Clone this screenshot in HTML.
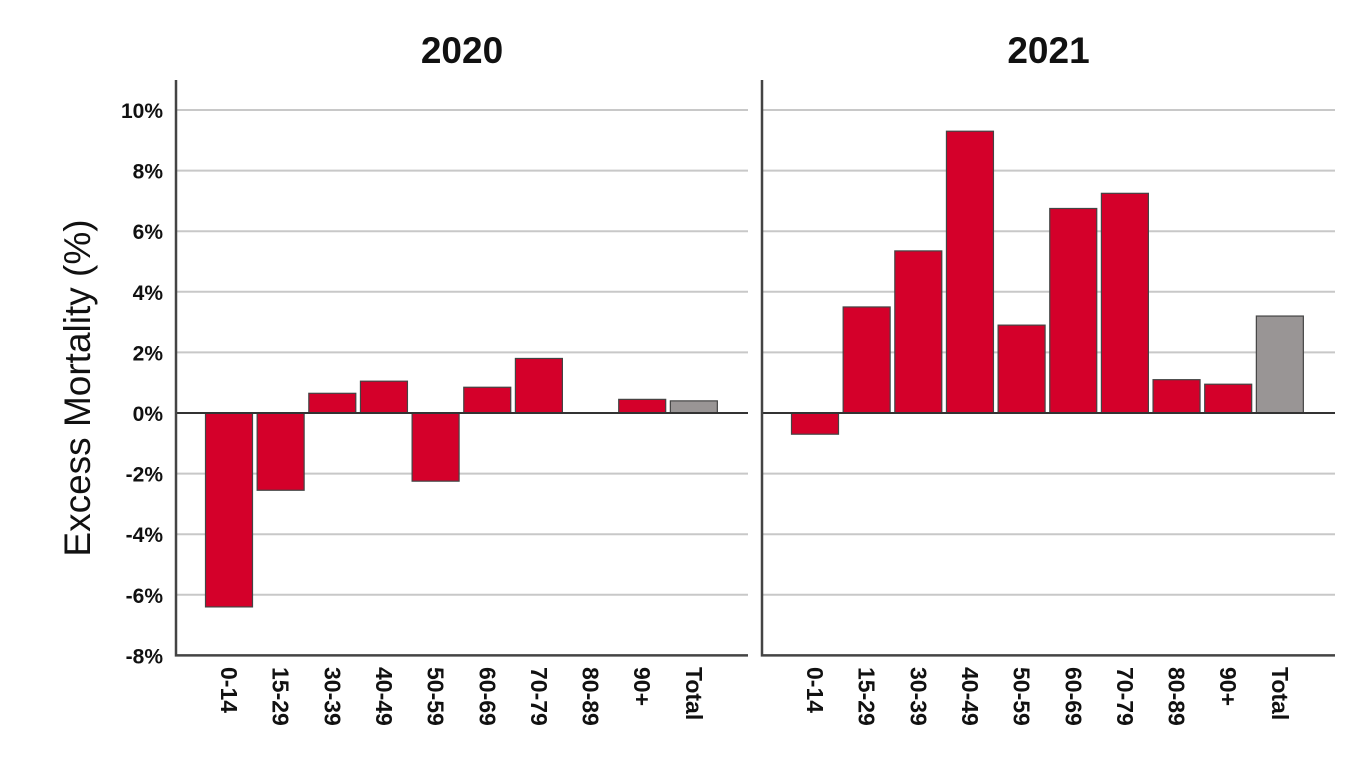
<!DOCTYPE html>
<html><head><meta charset="utf-8"><style>
body{margin:0;background:#fff;}
svg text{font-family:"Liberation Sans",sans-serif;fill:#111;}
</style></head><body>
<svg id="chart" width="1371" height="767" viewBox="0 0 1371 767" xmlns="http://www.w3.org/2000/svg"></svg>
<script>
const categories=["0-14","15-29","30-39","40-49","50-59","60-69","70-79","80-89","90+","Total"];
const values2020=[-6.4,-2.55,0.65,1.05,-2.25,0.85,1.8,0,0.45,0.4];
const values2021=[-0.7,3.5,5.35,9.3,2.9,6.75,7.25,1.1,0.95,3.2];
const yTicks=[10,8,6,4,2,0,-2,-4,-6,-8];
const panelTitles=["2020","2021"];
const NS="http://www.w3.org/2000/svg";
const svg=document.getElementById('chart');
function el(t,a,p){const e=document.createElementNS(NS,t);for(const k in a)e.setAttribute(k,a[k]);(p||svg).appendChild(e);return e;}
function y(v){return 413-v*30.3;}
const panels=[{left:176,right:748,vals:values2020},{left:762,right:1335,vals:values2021}];
yTicks.forEach(t=>{const tx=el('text',{x:163,y:y(t)+8,'text-anchor':'end','font-size':21,'font-weight':'bold'});
tx.textContent=t+'%';});
const yl=el('text',{x:0,y:0,transform:'translate(90,388) rotate(-90)','text-anchor':'middle','font-size':37});
yl.textContent='Excess Mortality (%)';
panels.forEach((p,pi)=>{
  const g=el('g',{});
  yTicks.forEach(t=>{if(t===0||t===-8)return;const l=el('line',{x1:p.left,x2:p.right,y1:y(t),y2:y(t),stroke:'#c8c8c8','stroke-width':2},g);
    });
  const band=51.65, first=p.left+53;
  p.vals.forEach((v,i)=>{const cx=first+i*band;const isT=categories[i]==='Total';
    if(v!==0){const r=el('rect',{x:cx-23.5,y:Math.min(y(v),y(0)),width:47,height:Math.abs(y(v)-y(0)),fill:isT?'#999595':'#d4002a',stroke:'#444','stroke-width':1.2},g);
    }
    const tx=el('text',{x:0,y:0,transform:`translate(${cx-8},667) rotate(90)`,'font-size':23,'font-weight':'bold'},g);
    tx.textContent=categories[i];
  });
  const z=el('line',{x1:p.left,x2:p.right,y1:y(0),y2:y(0),stroke:'#333','stroke-width':2},g);
  
  const ax=el('polyline',{points:`${p.left},80 ${p.left},${y(-8)} ${p.right},${y(-8)}`,fill:'none',stroke:'#444','stroke-width':2.5},g);
  
  const tt=el('text',{x:(p.left+p.right)/2,y:63,'text-anchor':'middle','font-size':37,'font-weight':'bold'},g);
  tt.textContent=panelTitles[pi];
});
</script>
</body></html>
